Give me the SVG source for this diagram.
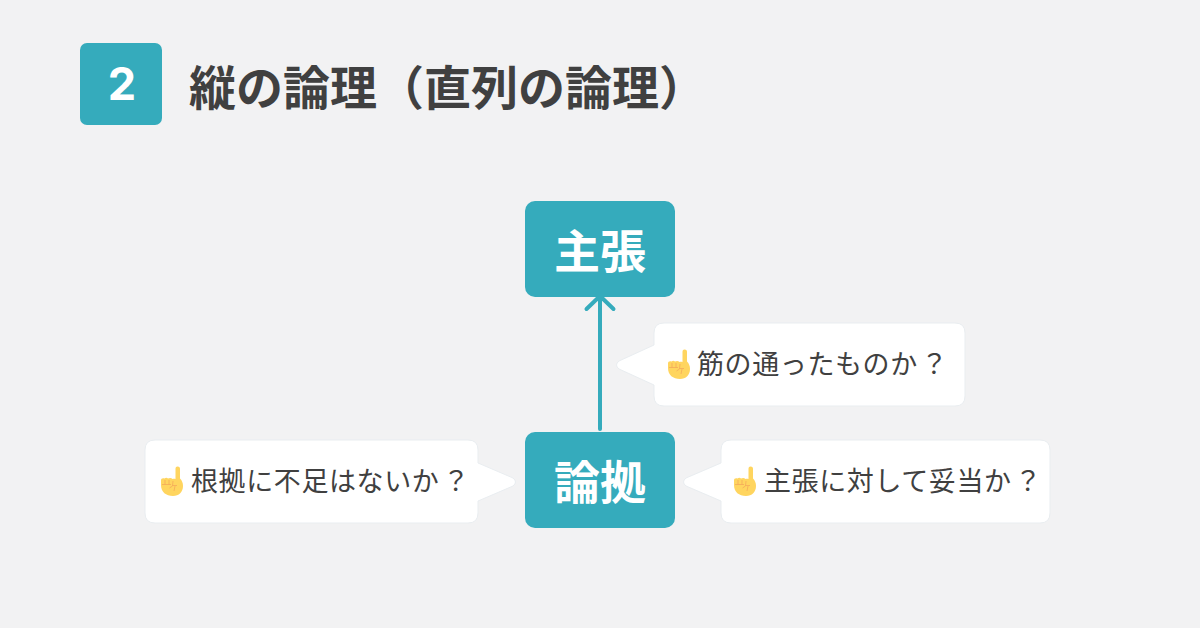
<svg xmlns="http://www.w3.org/2000/svg" width="1200" height="628" viewBox="0 0 1200 628">
<style>
text{font-family:"Noto Sans CJK JP","Noto Sans",sans-serif}
.box{fill:#35abbc}
.t{fill:#fff;font-weight:700;font-size:46px;text-anchor:middle}
.h{fill:#404040;font-weight:700;font-size:47px}
.b{fill:#404040;font-size:27px;letter-spacing:.6px}
.bub{fill:#fff;stroke:#e9edf0;stroke-width:1;stroke-linejoin:round}
.conn{fill:none;stroke:#35abbc;stroke-width:4;stroke-linecap:round;stroke-linejoin:round}
</style>
<defs>
<g id="hand">
<path d="M9.500 0.500C11.500 0.500 12 1.500 12 3V12.500C14 14.500 15 17 15 20C15 26 11 30 5 30C-2 30 -7 26 -7 19V14.500C-7 12.500 -5.500 12 -3.500 12.500C-2.500 11.500 -1 11.500 0 12.500C2 11.500 3.500 12 4.500 13C5.500 12.500 6.500 12.500 7.500 13V3C7.500 1.500 8 .5 9.500 .5Z" fill="#ffd55f"/>
<path d="M-6 18.500H3M-3 14V18.500M1 14V18.500M5 15L4.500 20L1.500 22M4.500 19.500H9M7 20L6 25" fill="none" stroke="#f4a95a" stroke-width=".8"/>
</g>
</defs>
<rect width="1200" height="628" fill="#f2f2f3"/>
<g id="badge"><rect class="box" x="80" y="43" width="82" height="82" rx="7"/><text x="122" y="100" text-anchor="middle" fill="#fff" font-weight="700" font-size="45" style="font-family:'Inter','Liberation Sans',sans-serif">2</text></g>
<g id="title"><text class="h" x="189" y="105">縦の論理（直列の論理）</text></g>
<g id="connectors"><path class="conn" d="M600 429V298M586.500 309L600 296L613.500 309"/></g>
<g id="node-claim"><rect class="box" x="525" y="201" width="150" height="96" rx="10"/><text class="t" x="600" y="268">主張</text></g>
<g id="node-evidence"><rect class="box" x="525" y="432" width="150" height="96" rx="10"/><text class="t" x="600" y="499">論拠</text></g>
<g id="bubble-top"><path class="bub" d="M664 323H955Q965 323 965 333V396Q965 406 955 406H664Q654 406 654 396V385L619 369Q614 365 619 361L654 345V333Q654 323 664 323Z"/><use href="#hand" x="675" y="349"/><text class="b" x="697" y="374">筋の通ったものか<tspan dx="3">？</tspan></text></g>
<g id="bubble-left"><path class="bub" d="M155 440H468Q478 440 478 450V463L513 478Q518 482 513 486L478 501V513Q478 523 468 523H155Q145 523 145 513V450Q145 440 155 440Z"/><use href="#hand" x="168" y="466"/><text class="b" x="191" y="491">根拠に不足はないか<tspan dx="3">？</tspan></text></g>
<g id="bubble-right"><path class="bub" d="M731 440H1040Q1050 440 1050 450V513Q1050 523 1040 523H731Q721 523 721 513V501L686 486Q681 482 686 478L721 463V450Q721 440 731 440Z"/><use href="#hand" x="741" y="466"/><text class="b" x="764" y="491">主張に対して妥当か<tspan dx="3">？</tspan></text></g>
</svg>
